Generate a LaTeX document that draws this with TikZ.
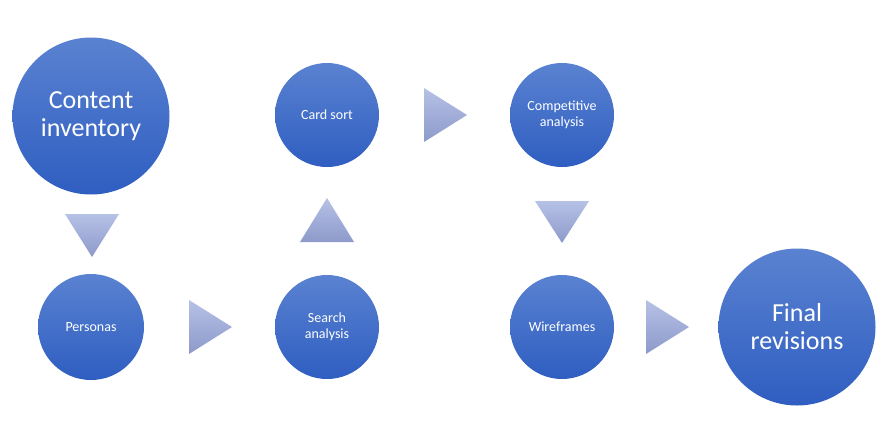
\documentclass[tikz,border=0pt]{standalone}
\usepackage{fontspec}
\setmainfont{Carlito}
\definecolor{ctop}{HTML}{5A82D1}
\definecolor{cbot}{HTML}{2F5EC1}
\definecolor{ttop}{HTML}{B6C1E6}
\definecolor{tbot}{HTML}{8D9ACA}
\begin{document}
\begin{tikzpicture}[x=1pt,y=-1pt,
  stage/.style={circle, inner sep=0pt, minimum size=#1, top color=ctop, bottom color=cbot, draw=none, text=white, align=center},
  bigtext/.style={font=\fontsize{26}{28}\selectfont},
  smalltext/.style={font=\fontsize{14}{16}\selectfont},
  tri/.style={top color=ttop, bottom color=tbot, draw=none}]
\useasboundingbox (0,0) rectangle (892,429);
\node[stage=157, bigtext] (ci) at (91,116) {Content\\inventory};
\node[stage=106, smalltext] (pe) at (91,327) {Personas};
\node[stage=104, smalltext] (se) at (327,327) {Search\\analysis};
\node[stage=104, smalltext] (cs) at (327,115) {Card sort};
\node[stage=104, smalltext] (co) at (562,115) {Competitive\\analysis};
\node[stage=104, smalltext] (wi) at (562,327) {Wireframes};
\node[stage=157, bigtext] (fr) at (797,327) {Final\\revisions};
\path[tri] (65,214) -- (119,214) -- (92,257) -- cycle;
\path[tri] (189,300) -- (189,354) -- (232,327) -- cycle;
\path[tri] (300,242) -- (354,242) -- (327,198) -- cycle;
\path[tri] (424,88) -- (424,142) -- (467,115) -- cycle;
\path[tri] (535,201) -- (589,201) -- (562,243) -- cycle;
\path[tri] (646,300) -- (646,354) -- (689,327) -- cycle;
\end{tikzpicture}
\end{document}
